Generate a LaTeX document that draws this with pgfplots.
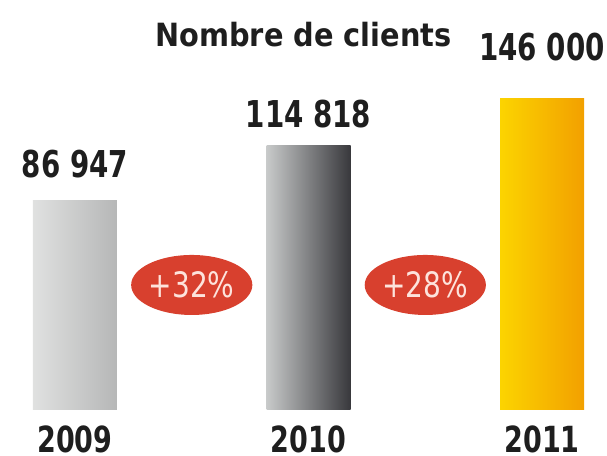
\documentclass[border=0pt]{standalone}
\usepackage{fontspec}
\setmainfont{DejaVu Sans Condensed}
\newfontfamily\numfont[FakeStretch=0.75]{DejaVu Sans}
\newfontfamily\pctfont[FakeStretch=0.8]{DejaVu Sans}
\usepackage{pgfplots}
\pgfplotsset{compat=1.18}
\usetikzlibrary{shapes.geometric}
\definecolor{gA}{HTML}{E0E1E0}
\definecolor{gB}{HTML}{B6B7B7}
\definecolor{hA}{HTML}{C8CACA}
\definecolor{hB}{HTML}{38383C}
\definecolor{yA}{HTML}{FCD400}
\definecolor{yB}{HTML}{F2A000}
\definecolor{redE}{HTML}{D8402E}
\definecolor{pinkT}{HTML}{FDE3DC}
\definecolor{txt}{HTML}{1E1E1E}
\begin{document}
\begin{tikzpicture}
\path[use as bounding box] (0,-46bp) rectangle (607bp,410bp);
\begin{axis}[at={(0,0)}, anchor=south west, scale only axis,
  width=607bp, height=410bp,
  xmin=-0.321, xmax=2.278,
  ymode=log, ymin=29965, ymax=240300,
  axis line style={draw=none}, tick style={draw=none}, ytick=\empty,
  xtick={0,1,2}, xticklabels={2009,2010,2011},
  xticklabel style={anchor=base, inner sep=0pt, yshift=-43bp, text=txt,
    font=\numfont\bfseries\fontsize{36bp}{36bp}\selectfont},
  point meta=explicit symbolic,
  every node near coord/.style={anchor=base, text=txt,
    font=\numfont\bfseries\fontsize{37bp}{37bp}\selectfont},
]
\addplot[ybar, bar width=84bp, bar shift=0pt, draw=none,
  left color=gA, right color=gB,
  nodes near coords, every node near coord/.append style={yshift=23bp}]
  coordinates {(0,86947) [86 947]};
\addplot[ybar, bar width=84bp, bar shift=0pt, draw=none,
  left color=hA, right color=hB,
  nodes near coords, every node near coord/.append style={yshift=18bp}]
  coordinates {(1,114818) [114 818]};
\addplot[ybar, bar width=84bp, bar shift=0pt, draw=none,
  left color=yA, right color=yB,
  nodes near coords, every node near coord/.append style={yshift=38bp}]
  coordinates {(2,146000) [146 000]};
\node[ellipse, fill=redE, minimum width=110bp, minimum height=60bp, inner sep=0pt,
  text=pinkT, font=\pctfont\fontsize{35bp}{35bp}\selectfont] at (axis cs:0.5,56530) {+32\%};
\node[ellipse, fill=redE, minimum width=110bp, minimum height=60bp, inner sep=0pt,
  text=pinkT, font=\pctfont\fontsize{35bp}{35bp}\selectfont] at (axis cs:1.5,56530) {+28\%};
\node[anchor=base, text=txt, font=\bfseries\fontsize{32bp}{32bp}\selectfont]
  at (rel axis cs:0.5,0.8854) {Nombre de clients};
\end{axis}
\end{tikzpicture}
\end{document}
